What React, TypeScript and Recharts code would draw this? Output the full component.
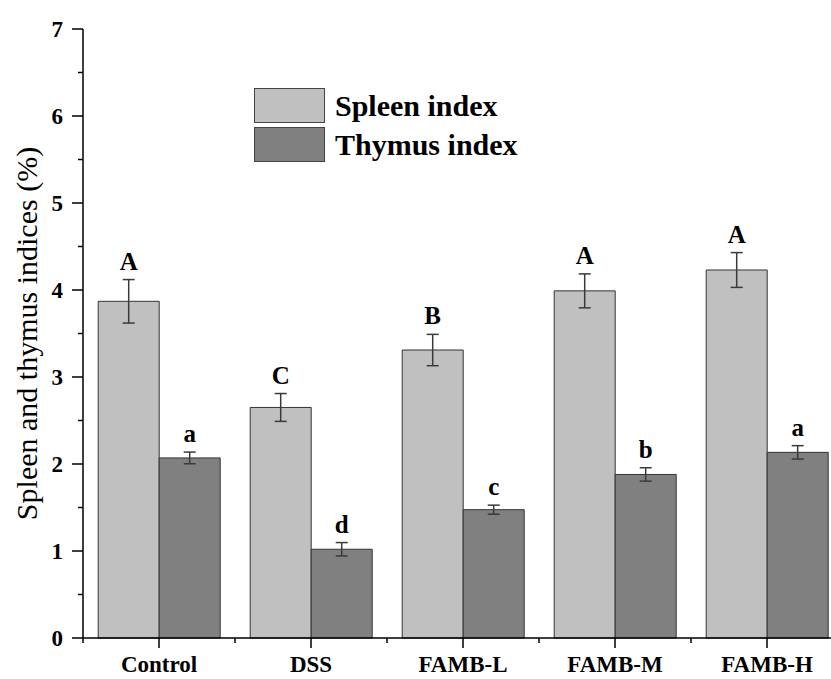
import { BarChart, Bar, XAxis, YAxis, ErrorBar, LabelList, Legend, Label } from 'recharts'

const groups = ['Control', 'DSS', 'FAMB-L', 'FAMB-M', 'FAMB-H']
const spleenIndex = [3.87, 2.65, 3.31, 3.99, 4.23]
const spleenSd = [0.25, 0.16, 0.18, 0.195, 0.2]
const spleenLetters = ['A', 'C', 'B', 'A', 'A']
const thymusIndex = [2.07, 1.02, 1.475, 1.88, 2.134]
const thymusSd = [0.067, 0.077, 0.052, 0.077, 0.077]
const thymusLetters = ['a', 'd', 'c', 'b', 'a']
const yTicks = [0, 0.5, 1, 1.5, 2, 2.5, 3, 3.5, 4, 4.5, 5, 5.5, 6, 6.5, 7]
const seriesNames = ['Spleen index', 'Thymus index']
const seriesColors = ['#c0c0c0', '#808080']

const FONT = '"Liberation Serif", "Times New Roman", Times, serif'

const data = groups.map((g, i) => ({
  group: g,
  spleen: spleenIndex[i],
  spleenErr: spleenSd[i],
  thymus: thymusIndex[i],
  thymusErr: thymusSd[i],
}))

// letter above the error bar; px per unit taken from the bar itself
const letterLabel = (letters: string[], errs: number[]) => (props: any) => {
  const vb = props.viewBox || {}
  const x = props.x ?? vb.x
  const y = props.y ?? vb.y
  const width = props.width ?? vb.width
  const height = Math.abs(props.height ?? vb.height)
  const index = props.index
  const value = Number(props.value)
  if (x == null || !value) return null
  const pxPerUnit = height / value
  const top = y - errs[index] * pxPerUnit
  return (
    <text
      x={x + width / 2}
      y={top - 10}
      textAnchor="middle"
      fontFamily={FONT}
      fontWeight="bold"
      fontSize={25}
      fill="#000"
    >
      {letters[index]}
    </text>
  )
}

const YTick = (props: any) => {
  const { x, y, payload } = props
  const major = Number.isInteger(payload.value)
  return (
    <g>
      <line x1={x + (major ? 9 : 15)} x2={x + 20} y1={y} y2={y} stroke="#000" strokeWidth={1.5} />
      {major && (
        <text x={x} y={y} dy="0.36em" textAnchor="end" fontFamily={FONT} fontWeight="bold" fontSize={23} fill="#000">
          {payload.value}
        </text>
      )}
    </g>
  )
}

const XTick = (props: any) => {
  const { x, y, payload, index, visibleTicksCount } = props
  const axisY = y - 18
  const half = payload.offset || 0
  return (
    <g>
      <line x1={x} x2={x} y1={axisY} y2={axisY + 10} stroke="#000" strokeWidth={1.5} />
      {half > 0 && <line x1={x - half} x2={x - half} y1={axisY} y2={axisY + 5} stroke="#000" strokeWidth={1.5} />}
      {half > 0 && index === visibleTicksCount - 1 && (
        <line x1={x + half} x2={x + half} y1={axisY} y2={axisY + 5} stroke="#000" strokeWidth={1.5} />
      )}
      <text x={x} y={y} dy="0.71em" textAnchor="middle" fontFamily={FONT} fontWeight="bold" fontSize={23} fill="#000">
        {payload.value}
      </text>
    </g>
  )
}

const renderLegend = () => (
  <div style={{ display: 'flex', flexDirection: 'column', gap: 4 }}>
    {seriesNames.map((name, i) => (
      <div key={name} style={{ display: 'flex', alignItems: 'center', height: 35 }}>
        <span
          style={{
            display: 'inline-block',
            width: 71,
            height: 35,
            boxSizing: 'border-box',
            background: seriesColors[i],
            border: '1.5px solid #444',
          }}
        />
        <span
          style={{
            marginLeft: 10,
            fontFamily: FONT,
            fontWeight: 'bold',
            fontSize: 30,
            lineHeight: '35px',
            color: '#000',
            whiteSpace: 'nowrap',
          }}
        >
          {name}
        </span>
      </div>
    ))}
  </div>
)

export default function App() {
  return (
    <div
      style={{
        position: 'fixed',
        left: 0,
        top: 0,
        width: 831,
        height: 679,
        overflow: 'hidden',
        background: '#fff',
      }}
    >
      <BarChart
        width={849}
        height={679}
        data={data}
        margin={{ top: 29, right: 6, bottom: 0, left: 0 }}
        barCategoryGap="10%"
        barGap={0}
      >
        <XAxis
          dataKey="group"
          height={41}
          tickSize={10}
          tickMargin={8}
          tickLine={false}
          axisLine={{ stroke: '#000', strokeWidth: 1.5 }}
          tick={<XTick />}
          interval={0}
        />
        <YAxis
          width={83}
          domain={[0, 7]}
          ticks={yTicks}
          interval={0}
          tickSize={11}
          tickMargin={9}
          tickLine={false}
          axisLine={{ stroke: '#000', strokeWidth: 1.5 }}
          tick={<YTick />}
        >
          <Label
            content={(props: any) => {
              const vb = props.viewBox
              const cx = vb.x + 37
              const cy = vb.y + vb.height / 2
              return (
                <text
                  x={cx}
                  y={cy}
                  transform={`rotate(-90, ${cx}, ${cy})`}
                  textAnchor="middle"
                  fontFamily={FONT}
                  fontSize={30}
                  fill="#000"
                >
                  Spleen and thymus indices (%)
                </text>
              )
            }}
          />
        </YAxis>
        <Legend
          layout="vertical"
          verticalAlign="middle"
          align="center"
          wrapperStyle={{ left: 254, top: 88, width: 'auto' }}
          content={renderLegend}
        />
        <Bar dataKey="spleen" name={seriesNames[0]} fill={seriesColors[0]} stroke="#333" strokeWidth={1} isAnimationActive={false}>
          <ErrorBar dataKey="spleenErr" direction="y" width={6} stroke="#3a3a3a" strokeWidth={1.5} />
          <LabelList dataKey="spleen" content={letterLabel(spleenLetters, spleenSd)} />
        </Bar>
        <Bar dataKey="thymus" name={seriesNames[1]} fill={seriesColors[1]} stroke="#333" strokeWidth={1} isAnimationActive={false}>
          <ErrorBar dataKey="thymusErr" direction="y" width={6} stroke="#3a3a3a" strokeWidth={1.5} />
          <LabelList dataKey="thymus" content={letterLabel(thymusLetters, thymusSd)} />
        </Bar>
      </BarChart>
    </div>
  )
}
